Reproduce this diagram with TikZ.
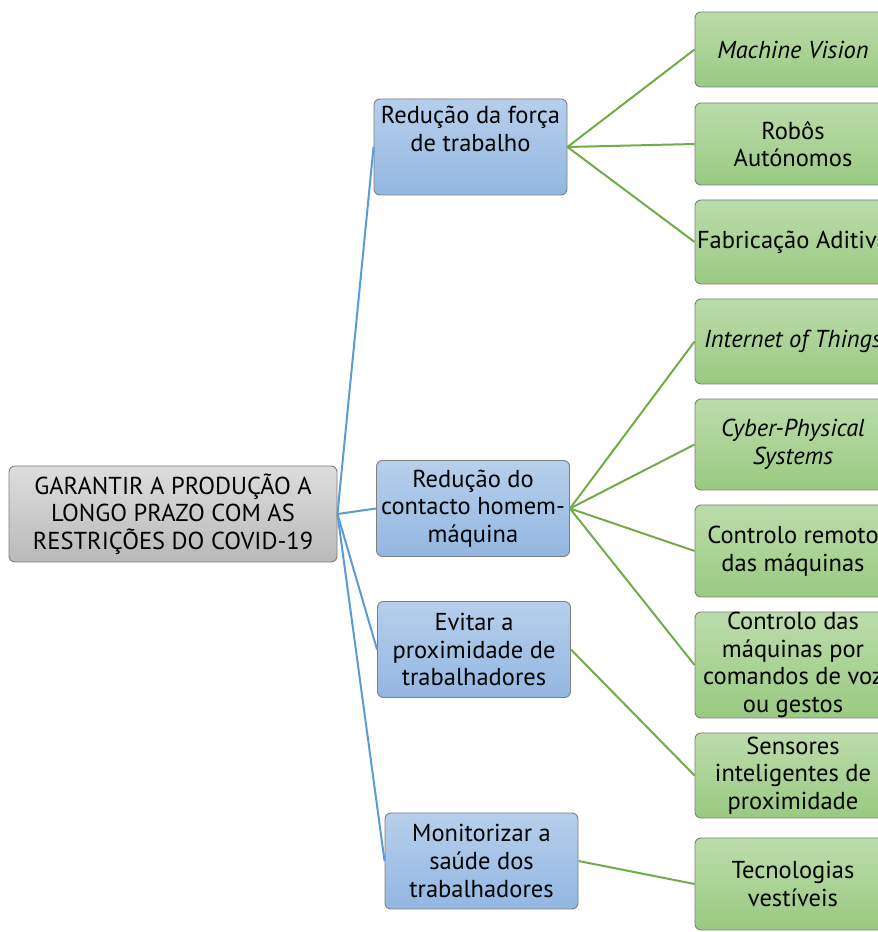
\documentclass[tikz,border=0pt]{standalone}
\usepackage{fontspec}
\setmainfont{PT Sans}
\begin{document}
\begin{tikzpicture}[x=1pt,y=1pt,
  box/.style={draw=boxedge, line width=0.9pt, rounded corners=6pt, align=center,
    inner sep=0pt, font=\fontsize{24.5}{27.6}\selectfont, text=black},
  rootbox/.style={box, top color=rootTop, bottom color=rootBot, minimum width=328, minimum height=96},
  aimbox/.style={box, top color=blueTop, bottom color=blueBot, minimum width=193, minimum height=96},
  techbox/.style={box, top color=greenTop, bottom color=greenBot, minimum width=196},
  blueline/.style={draw=blueLine, line width=2pt},
  greenline/.style={draw=greenLine, line width=2pt}]
\definecolor{boxedge}{HTML}{7F7F7F}
\definecolor{rootTop}{HTML}{DDDDDD}
\definecolor{rootBot}{HTML}{B9B9B9}
\definecolor{blueTop}{HTML}{B6CFEC}
\definecolor{blueBot}{HTML}{93B7E2}
\definecolor{greenTop}{HTML}{BBDCAB}
\definecolor{greenBot}{HTML}{99CA81}
\definecolor{blueLine}{HTML}{5B9BD5}
\definecolor{greenLine}{HTML}{70AD47}
\useasboundingbox (0,0) rectangle (878,932);
\clip (0,0) rectangle (878,932);
\fill[white] (0,0) rectangle (878,932);

% root
\node[rootbox] (root) at (173,418) {GARANTIR A PRODUÇÃO A\\LONGO PRAZO COM AS\\RESTRIÇÕES DO COVID-19};

% goals
\node[aimbox] (b1) at (470.5,785) {Redução da força\\de trabalho\\\strut};
\node[aimbox] (b2) at (473,423.5) {Redução do\\contacto homem-\\máquina};
\node[aimbox] (b3) at (474,282.5) {Evitar a\\proximidade de\\trabalhadores};
\node[aimbox] (b4) at (481.5,71) {Monitorizar a\\saúde dos\\trabalhadores};

% technologies
\node[techbox, minimum height=75] (g1) at (793,882.5) {\itshape Machine Vision};
\node[techbox, minimum height=82] (g2) at (793,788) {Robôs\\Autónomos};
\node[techbox, minimum height=84] (g3) at (793,690) {Fabricação Aditiva};
\node[techbox, minimum height=85] (g4) at (793,590.5) {\itshape Internet of Things};
\node[techbox, minimum height=91] (g5) at (793,487.5) {\itshape Cyber-Physical\\\itshape Systems};
\node[techbox, minimum height=92] (g6) at (793,381) {Controlo remoto\\das máquinas};
\node[techbox, minimum height=106] (g7) at (793,267) {Controlo das\\máquinas por\\comandos de voz\\ou gestos};
\node[techbox, minimum height=85] (g8) at (793,156.5) {Sensores\\inteligentes de\\proximidade};
\node[techbox, minimum height=92] (g9) at (793,48) {Tecnologias\\vestíveis};

% connectors
\foreach \b in {b1,b2,b3,b4} \draw[blueline] (root.east) -- (\b.west);
\foreach \g in {g1,g2,g3} \draw[greenline] (b1.east) -- (\g.west);
\foreach \g in {g4,g5,g6,g7} \draw[greenline] (b2.east) -- (\g.west);
\draw[greenline] (b3.east) -- (g8.west);
\draw[greenline] (b4.east) -- (g9.west);
\end{tikzpicture}
\end{document}
